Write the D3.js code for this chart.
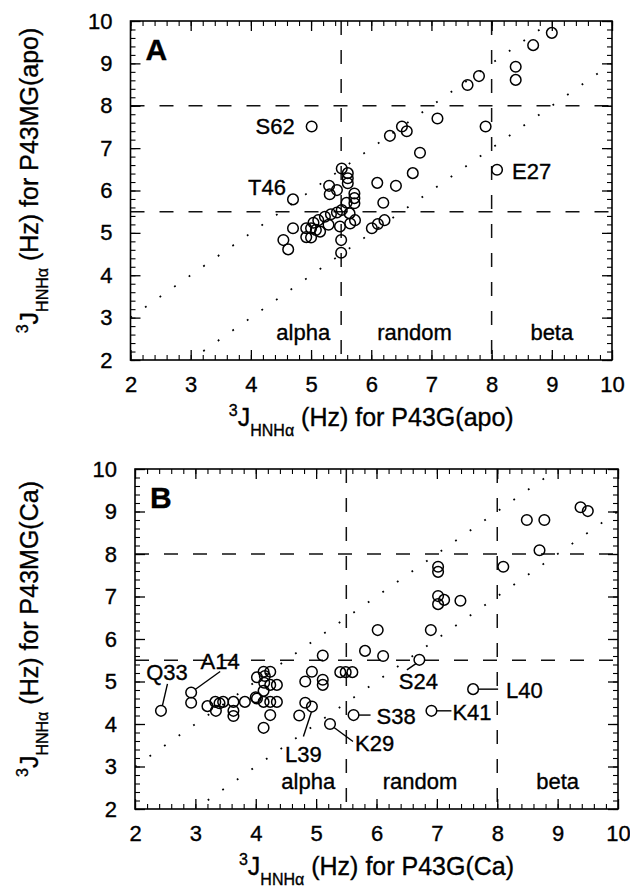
<!DOCTYPE html>
<html>
<head>
<meta charset="utf-8">
<script src="https://cdn.jsdelivr.net/npm/d3@7"></script>
<style>
    body { margin: 0; background: #fff; }
    svg text { font-family: "Liberation Sans", Arial, sans-serif; fill: #000; stroke: #000; stroke-width: 0.35px; }
</style>
</head>
<body>
<div id="chart"></div>
<script>
// Data
const tickValues = [2, 3, 4, 5, 6, 7, 8, 9, 10];
const cutoffs = [5.5, 8];           // alpha | random | beta boundaries
const diagonals = [1, -1];          // dotted lines y = x + c
const regions = ['alpha', 'random', 'beta'];
const regionCenters = [4.87, 6.72, 9.0];

// Panel A: P43G(apo) vs P43MG(apo)
const apoX = [9.00, 8.69, 8.40, 8.40, 7.79, 7.60, 7.10, 7.90, 5.01, 6.31, 6.51, 6.59, 6.81, 6.69, 8.09,
    6.10, 6.41, 6.20, 6.22, 6.11, 6.01, 5.51, 5.61, 5.61, 5.61, 5.30, 5.43, 5.31, 4.70, 5.72, 5.72,
    5.72, 5.59, 5.51, 5.43, 5.33, 5.23, 5.12, 5.04, 5.64, 5.73, 5.65, 5.48, 5.29, 4.70, 4.92, 5.00,
    5.08, 5.15, 4.92, 5.00, 4.54, 4.62, 5.50, 5.50];
const apoY = [9.72, 9.43, 8.92, 8.61, 8.70, 8.49, 7.70, 7.51, 7.51, 7.29, 7.51, 7.40, 6.89, 6.41, 6.49,
    6.18, 6.11, 5.71, 5.30, 5.21, 5.11, 6.52, 6.41, 6.29, 6.17, 6.11, 6.01, 5.91, 5.79, 5.93, 5.82,
    5.70, 5.71, 5.54, 5.48, 5.44, 5.38, 5.30, 5.24, 5.46, 5.30, 5.22, 5.15, 5.19, 5.11, 5.11, 5.11,
    5.07, 5.03, 4.90, 4.89, 4.83, 4.61, 4.83, 4.53];
const apoLabelNames = ['S62', 'T46', 'E27'];
const apoLabelX = [5.01, 4.70, 8.09];
const apoLabelY = [7.51, 5.79, 6.49];

// Panel B: P43G(Ca) vs P43MG(Ca)
const caX = [9.38, 9.50, 8.49, 8.78, 8.70, 8.10, 7.02, 7.02, 7.02, 7.02, 7.12, 7.39, 6.02, 6.90, 5.81,
    6.11, 6.71, 5.40, 5.49, 5.60, 7.60, 6.91, 5.62, 5.23, 2.43, 2.93, 2.93, 3.20, 3.33, 3.40, 3.46,
    3.34, 3.63, 3.63, 3.63, 3.82, 4.00, 4.02, 4.13, 4.24, 4.15, 4.14, 4.24, 4.35, 4.13, 4.02, 4.13,
    4.24, 4.35, 4.24, 4.13, 4.93, 4.82, 5.11, 5.11, 5.11, 4.82, 4.93, 4.72];
const caY = [9.10, 9.01, 8.80, 8.80, 8.09, 7.70, 7.70, 7.58, 7.01, 6.82, 6.92, 6.90, 6.21, 6.21, 5.72,
    5.60, 5.51, 5.22, 5.22, 5.22, 4.82, 4.31, 4.21, 4.00, 4.31, 4.74, 4.50, 4.42, 4.52, 4.49, 4.52,
    4.31, 4.52, 4.31, 4.19, 4.52, 4.63, 5.10, 5.23, 5.23, 5.13, 4.97, 4.92, 4.92, 4.78, 4.60, 4.52,
    4.52, 4.52, 4.21, 3.91, 5.23, 5.00, 5.04, 4.92, 5.61, 4.50, 4.41, 4.20];
const caLabelNames = ['Q33', 'A14', 'S24', 'L40', 'K41', 'S38', 'K29', 'L39'];
const caLabelX = [2.43, 2.93, 6.71, 7.60, 6.91, 5.62, 5.23, 4.93];
const caLabelY = [4.31, 4.74, 5.51, 4.82, 4.31, 4.21, 4.00, 4.41];

// Label placement in pixels relative to the point: [dx, dy, anchor, leader]
const apoLabelLayout = [
    [-17, 0, 'end', null],
    [-7, -12, 'end', null],
    [15, 1, 'start', null]
];
const caLabelLayout = [
    [6, -39, 'middle', [1.5, -5.5, 6.5, -27]],
    [29, -31, 'middle', [4, -3, 29, -21]],
    [-1, 21.5, 'middle', [-3, 3.5, -12.5, 10]],
    [33, 1, 'start', [5.5, 0, 25, 0]],
    [21, 1.5, 'start', [5.5, 0, 20, 0]],
    [23, 1, 'start', [5.5, 0, 17, 0]],
    [25, 19.5, 'start', [4, 3.5, 23, 17.5]],
    [-8.5, 48, 'middle', [-0.5, 5.5, -8.5, 30]]
];

const W = 630, H = 890;
const svg = d3.select('#chart').append('svg')
    .attr('width', W)
    .attr('height', H);

function drawPanel(cfg) {
    const f = cfg.frame;
    const x = d3.scaleLinear().domain([2, 10]).range([f.left, f.right]);
    const y = d3.scaleLinear().domain([2, 10]).range([f.bottom, f.top]);
    const g = svg.append('g');

    g.append('clipPath').attr('id', 'clip' + cfg.id)
        .append('rect')
        .attr('x', f.left).attr('y', f.top)
        .attr('width', f.right - f.left).attr('height', f.bottom - f.top);

    const inner = g.append('g').attr('clip-path', `url(#clip${cfg.id})`);

    // dotted diagonals
    inner.selectAll('.diag')
        .data(diagonals)
        .enter()
        .append('line')
        .attr('x1', x(2)).attr('y1', c => y(2 + c))
        .attr('x2', x(10)).attr('y2', c => y(10 + c))
        .attr('stroke', '#000')
        .attr('stroke-width', 1.8)
        .attr('stroke-dasharray', '1.8,16');

    // dashed cutoffs
    inner.selectAll('.vcut')
        .data(cutoffs)
        .enter()
        .append('line')
        .attr('x1', d => x(d)).attr('x2', d => x(d))
        .attr('y1', f.top).attr('y2', f.bottom)
        .attr('stroke', '#111')
        .attr('stroke-width', 1.5)
        .attr('stroke-dasharray', '14,15');
    inner.selectAll('.hcut')
        .data(cutoffs)
        .enter()
        .append('line')
        .attr('y1', d => y(d)).attr('y2', d => y(d))
        .attr('x1', f.left).attr('x2', f.right)
        .attr('stroke', '#111')
        .attr('stroke-width', 1.5)
        .attr('stroke-dasharray', '14,15');

    // axes: ticks inside on all four sides
    const minor = d3.range(2, 10.001, 0.2);
    const axes = [
        [d3.axisBottom(x), `translate(0,${f.bottom})`],
        [d3.axisTop(x), `translate(0,${f.top})`],
        [d3.axisLeft(y), `translate(${f.left},0)`],
        [d3.axisRight(y), `translate(${f.right},0)`]
    ];
    axes.forEach(([ax, tr]) => {
        g.append('g').attr('transform', tr)
            .call(ax.tickValues(minor).tickSize(-5).tickFormat(''))
            .call(s => s.select('.domain').remove())
            .selectAll('line').attr('stroke-width', 1.1);
        g.append('g').attr('transform', tr)
            .call(ax.tickValues(tickValues).tickSize(-10).tickFormat(''))
            .call(s => s.select('.domain').remove())
            .selectAll('line').attr('stroke-width', 1.3);
    });

    // tick labels
    g.append('g').attr('transform', `translate(0,${f.bottom})`)
        .call(d3.axisBottom(x).tickValues(tickValues).tickSize(0).tickPadding(16).tickFormat(d3.format('d')))
        .call(s => s.select('.domain').remove())
        .selectAll('text').style('font-size', '22px');
    g.append('g').attr('transform', `translate(${f.left},0)`)
        .call(d3.axisLeft(y).tickValues(tickValues).tickSize(0).tickPadding(18).tickFormat(d3.format('d')))
        .call(s => s.select('.domain').remove())
        .selectAll('text').style('font-size', '22px');

    // frame
    g.append('rect')
        .attr('x', f.left).attr('y', f.top)
        .attr('width', f.right - f.left).attr('height', f.bottom - f.top)
        .attr('fill', 'none')
        .attr('stroke', '#000')
        .attr('stroke-width', 1.6);

    // region names
    g.selectAll('.region')
        .data(regions)
        .enter()
        .append('text')
        .attr('x', (d, i) => x(regionCenters[i]))
        .attr('y', f.bottom - 20)
        .attr('text-anchor', 'middle')
        .style('font-size', '22px')
        .text(d => d);

    // points
    g.selectAll('.pt')
        .data(cfg.xs.map((v, i) => [v, cfg.ys[i]]))
        .enter()
        .append('circle')
        .attr('cx', d => x(d[0]))
        .attr('cy', d => y(d[1]))
        .attr('r', 5.3)
        .attr('fill', 'none')
        .attr('stroke', '#000')
        .attr('stroke-width', 1.5);

    // residue labels
    cfg.labels.forEach((name, i) => {
        const px = x(cfg.labelX[i]), py = y(cfg.labelY[i]);
        const [dx, dy, anchor, lead] = cfg.layout[i];
        if (lead) {
            g.append('line')
                .attr('x1', px + lead[0]).attr('y1', py + lead[1])
                .attr('x2', px + lead[2]).attr('y2', py + lead[3])
                .attr('stroke', '#000')
                .attr('stroke-width', 1.4);
        }
        g.append('text')
            .attr('x', px + dx)
            .attr('y', py + dy)
            .attr('dy', '0.36em')
            .attr('text-anchor', anchor)
            .style('font-size', '22px')
            .text(name);
    });

    // panel letter
    g.append('text')
        .attr('x', f.left + 15)
        .attr('y', f.top + 39)
        .style('font-size', '30px')
        .style('font-weight', 'bold')
        .text(cfg.id);

    // axis titles with ³J(HNHα)
    function title(sel, rest) {
        sel.append('tspan').attr('dy', -10).style('font-size', '16px').text('3');
        sel.append('tspan').attr('dy', 10).text('J');
        sel.append('tspan').attr('dy', 10).style('font-size', '16px').text('HNHα');
        sel.append('tspan').attr('dy', -10).text(' (Hz) for ' + rest);
    }
    g.append('text')
        .attr('x', (f.left + f.right) / 2)
        .attr('y', f.bottom + 66)
        .attr('text-anchor', 'middle')
        .style('font-size', '25px')
        .call(title, cfg.xTitle);
    g.append('text')
        .attr('transform', `translate(38,${(f.top + f.bottom) / 2 - 10}) rotate(-90)`)
        .attr('text-anchor', 'middle')
        .style('font-size', '25px')
        .call(title, cfg.yTitle);
}

drawPanel({
    id: 'A', xs: apoX, ys: apoY,
    labels: apoLabelNames, labelX: apoLabelX, labelY: apoLabelY, layout: apoLabelLayout,
    xTitle: 'P43G(apo)', yTitle: 'P43MG(apo)',
    frame: { left: 130.5, right: 612, top: 21, bottom: 360 }
});
drawPanel({
    id: 'B', xs: caX, ys: caY,
    labels: caLabelNames, labelX: caLabelX, labelY: caLabelY, layout: caLabelLayout,
    xTitle: 'P43G(Ca)', yTitle: 'P43MG(Ca)',
    frame: { left: 135, right: 618, top: 469, bottom: 809 }
});
</script>
</body>
</html>
